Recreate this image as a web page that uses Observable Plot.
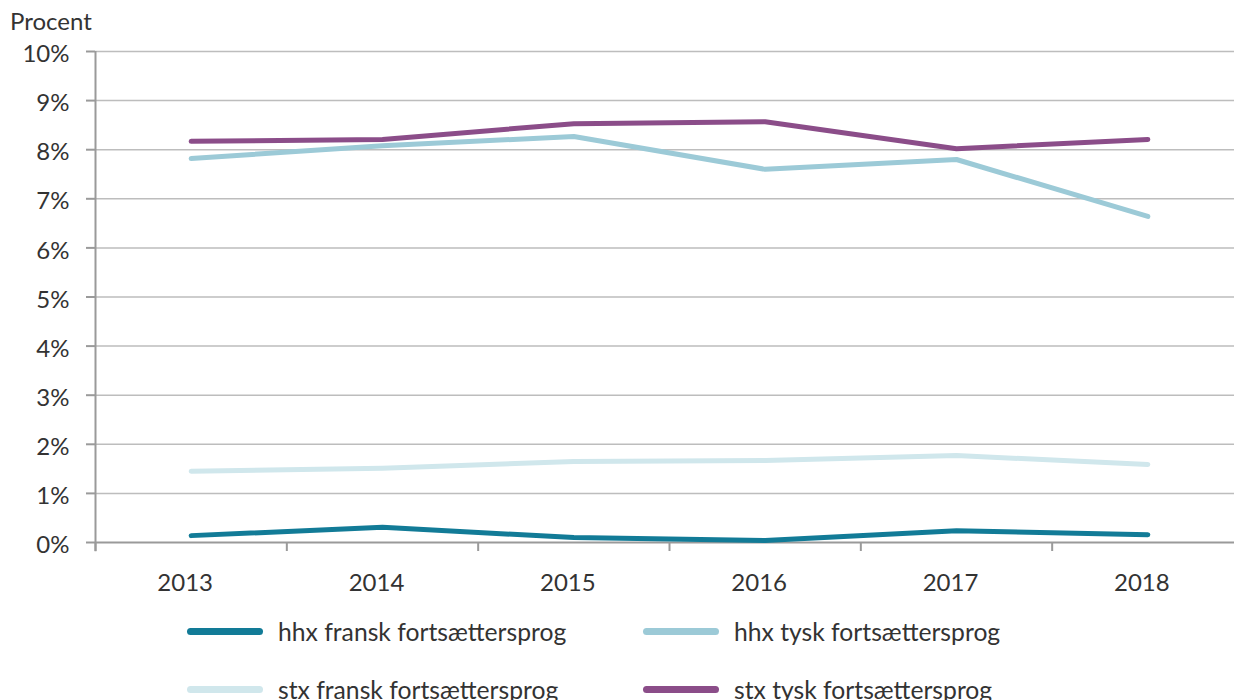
<!DOCTYPE html>
<html>
<head>
<meta charset="utf-8">
<script src="https://cdn.jsdelivr.net/npm/d3@7"></script>
<script src="https://cdn.jsdelivr.net/npm/@observablehq/plot@0.6"></script>
<style>
  body { margin: 0; background: #fff; font-family: Lato, "Noto Sans", sans-serif; color: #333; }
  #wrap { position: relative; width: 1234px; height: 700px; overflow: hidden; }
  .ttl { position: absolute; left: 10px; top: 6px; font-size: 24px; color: #333; line-height: 30px; }
  .legend { position: absolute; display: flex; align-items: center; font-size: 24.7px; color: #333; white-space: nowrap; }
  .sw { width: 76px; height: 7px; border-radius: 4px; margin-right: 15px; }
</style>
</head>
<body>
<div id="wrap">
  <div id="chart"></div>
  <div class="ttl">Procent</div>
  <div id="legend"></div>
</div>
<script>
const years = [2013, 2014, 2015, 2016, 2017, 2018];
const seriesNames = ["hhx fransk fortsættersprog", "hhx tysk fortsættersprog", "stx fransk fortsættersprog", "stx tysk fortsættersprog"];
const seriesColors = ["#127b97", "#9ccad7", "#d0e7ec", "#8b4d89"];
const hhxFransk = [0.14, 0.31, 0.10, 0.04, 0.24, 0.16];
const hhxTysk = [7.82, 8.08, 8.27, 7.60, 7.80, 6.64];
const stxFransk = [1.45, 1.51, 1.65, 1.67, 1.77, 1.59];
const stxTysk = [8.17, 8.21, 8.53, 8.57, 8.02, 8.21];
const yTicks = [0, 1, 2, 3, 4, 5, 6, 7, 8, 9, 10];

const values = [hhxFransk, hhxTysk, stxFransk, stxTysk];
const data = [];
values.forEach((arr, s) => arr.forEach((v, i) => data.push({year: years[i], value: v, series: seriesNames[s]})));
const bounds = years.map(y => y - 0.5).concat([years[years.length - 1] + 0.5]);

const chart = Plot.plot({
  width: 1234,
  height: 600,
  marginTop: 51,
  marginBottom: 58,
  marginLeft: 95,
  marginRight: 0,
  style: {fontFamily: "Lato, 'Noto Sans', sans-serif", fontSize: "24px", color: "#333", background: "#fff", overflow: "visible"},
  x: {domain: [bounds[0], bounds[bounds.length - 1]], range: [95, 1243]},
  y: {domain: [0, 10]},
  color: {domain: seriesNames, range: seriesColors},
  marks: [
    Plot.ruleY(yTicks.filter(d => d > 0), {stroke: "#bdbdbd", strokeWidth: 1.5}),
    Plot.ruleY([0], {stroke: "#9a9a9a", strokeWidth: 2}),
    Plot.ruleX([bounds[0]], {y1: -0.19, y2: 10, stroke: "#9a9a9a", strokeWidth: 2}),
    Plot.axisY({ticks: yTicks, tickSize: 9, tickFormat: () => "", stroke: "#9a9a9a", strokeWidth: 2, label: null}),
    Plot.axisY({ticks: yTicks, tickSize: 0, tickPadding: 26, dy: 3, tickFormat: d => d + "%", fill: "#333", label: null}),
    Plot.axisX({ticks: bounds, tickSize: 9, tickFormat: () => "", stroke: "#9a9a9a", strokeWidth: 2, label: null}),
    Plot.axisX({ticks: years, tickSize: 0, tickPadding: 31, dx: -6, tickFormat: d => String(d), fill: "#333", label: null}),
    Plot.line(data, {x: "year", y: "value", z: "series", stroke: "series", strokeWidth: 5, strokeLinecap: "round", strokeLinejoin: "round"})
  ]
});
document.getElementById("chart").appendChild(chart);

const legendPos = [[187, 631], [643, 631], [187, 689], [643, 689]];
const lg = document.getElementById("legend");
seriesNames.forEach((name, i) => {
  const el = document.createElement("div");
  el.className = "legend";
  el.style.left = legendPos[i][0] + "px";
  el.style.top = (legendPos[i][1] - 15) + "px";
  el.style.height = "30px";
  el.innerHTML = `<div class="sw" style="background:${seriesColors[i]}"></div><span>${name}</span>`;
  lg.appendChild(el);
});
</script>
</body>
</html>
